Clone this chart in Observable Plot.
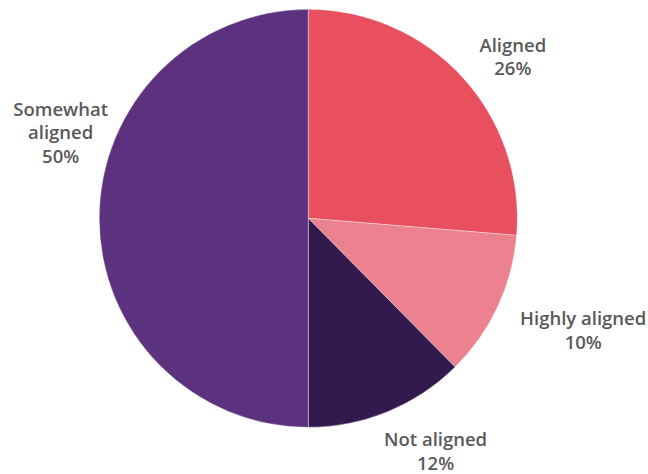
<!DOCTYPE html>
<html>
<head>
<meta charset="utf-8">
<script src="https://cdn.jsdelivr.net/npm/d3@7"></script>
<script src="https://cdn.jsdelivr.net/npm/@observablehq/plot@0.6"></script>
<style>
  html, body { margin: 0; padding: 0; background: #ffffff; }
  #chart { width: 648px; height: 474px; }
</style>
</head>
<body>
<div id="chart"></div>
<script>
// Data
const categories = ["Aligned", "Highly aligned", "Not aligned", "Somewhat aligned"];
const shares = [26.3, 11.3, 12.4, 50.0];           // slice sizes
const percentLabels = ["26%", "10%", "12%", "50%"]; // printed labels
const labelNames = ["Aligned", "Highly aligned", "Not aligned", "Somewhat\naligned"];
const colors = ["#E85060", "#EC8290", "#321A4F", "#5C327E"];

// Label layout (angle in degrees clockwise from top, radius in pie radii)
const labelAngle = [51.4, 112, 151.3, 289.3];
const labelRadius = [1.249, 1.416, 1.263, 1.258];

const W = 648, H = 474;
const CX = 308.3, CY = 218.3, R = 209;

const slices = categories.map((c, i) => ({category: c, value: shares[i], color: colors[i]}));
const labels = categories.map((c, i) => {
  const a = labelAngle[i] * Math.PI / 180;
  return {
    text: labelNames[i] + "\n" + percentLabels[i],
    x: labelRadius[i] * Math.sin(a),
    y: labelRadius[i] * Math.cos(a)
  };
});

const pieMark = (index, scales, values, dimensions, context) => {
  const cx = scales.x(0), cy = scales.y(0);
  const r = scales.x(1) - scales.x(0);
  const arcs = d3.pie().sort(null).value(d => d.value)(slices);
  const arc = d3.arc().innerRadius(0).outerRadius(r);
  const g = d3.create("svg:g").attr("transform", `translate(${cx},${cy})`);
  g.selectAll("path").data(arcs).join("path")
    .attr("d", arc)
    .attr("fill", d => d.data.color)
    .attr("stroke", "#ffffff")
    .attr("stroke-opacity", 0.6)
    .attr("stroke-width", 0.6);
  return g.node();
};

const chart = Plot.plot({
  width: W,
  height: H,
  margin: 0,
  x: {domain: [-CX / R, (W - CX) / R], axis: null},
  y: {domain: [-(H - CY) / R, CY / R], axis: null},
  style: {background: "#ffffff"},
  marks: [
    pieMark,
    Plot.text(labels, {
      x: "x", y: "y", text: "text",
      fontSize: 18.5, fontWeight: 600,
      fontFamily: "'Open Sans', sans-serif",
      fill: "#595959", lineHeight: 1.27,
      textAnchor: "middle"
    })
  ]
});
document.getElementById("chart").appendChild(chart);
</script>
</body>
</html>
